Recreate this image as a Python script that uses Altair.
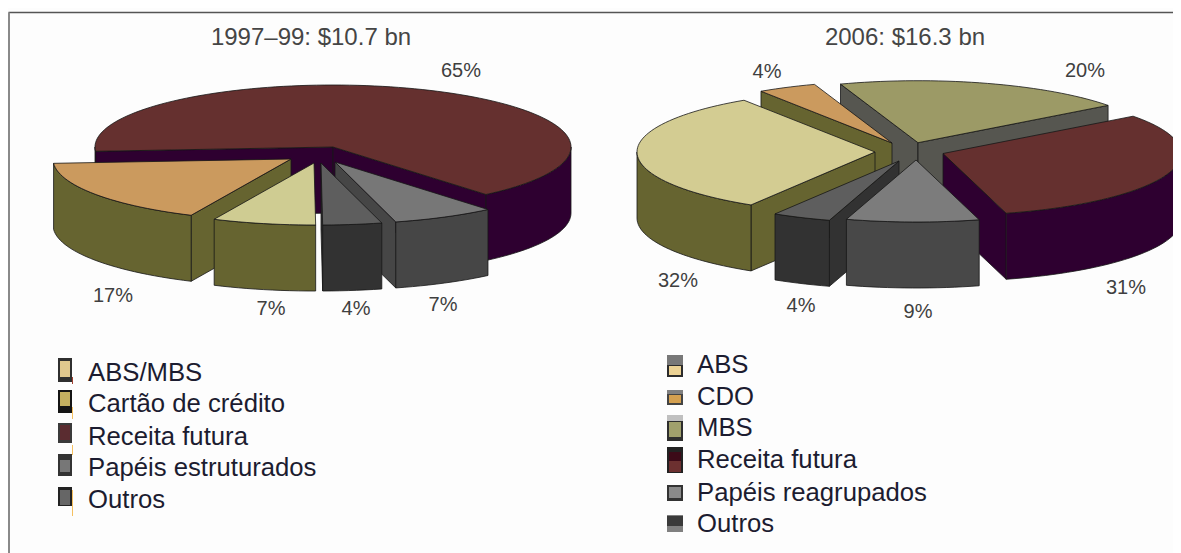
import math
import altair as alt

W, H = 1165, 545
OX, OY = 8, 8  # page margin

# ---- data -------------------------------------------------------------
left_names = ["Receita futura", "Papéis estruturados", "Outros", "ABS/MBS", "Cartão de crédito"]
left_shares = [65, 7, 4, 7, 17]
left_labels = ["65%", "7%", "4%", "7%", "17%"]
right_names = ["MBS", "Receita futura", "Papéis reagrupados", "Outros", "ABS", "CDO"]
right_shares = [20, 31, 9, 4, 32, 4]
right_labels = ["20%", "31%", "9%", "4%", "32%", "4%"]
titles = ["1997–99: $10.7 bn", "2006: $16.3 bn"]
left_legend = ["ABS/MBS", "Cartão de crédito", "Receita futura", "Papéis estruturados", "Outros"]
right_legend = ["ABS", "CDO", "MBS", "Receita futura", "Papéis reagrupados", "Outros"]

# ---- style / layout ----------------------------------------------------
TOP = {"Receita futura": "#65302f", "Papéis estruturados": "#777777", "Papéis reagrupados": "#7c7c7c",
       "Outros": "#5e5e5e", "ABS/MBS": "#cfcc92", "ABS": "#d3cc92", "Cartão de crédito": "#cb9a5e",
       "CDO": "#cb9a5e", "MBS": "#9c9a66"}
WALL = {"Receita futura": "#2e0030", "Papéis estruturados": "#464646", "Papéis reagrupados": "#484848",
        "Outros": "#323232", "ABS/MBS": "#666430", "ABS": "#666430", "Cartão de crédito": "#666430",
        "CDO": "#666430", "MBS": "#565650"}
RX, RY, DEPTH = 238, 62, 66
left_start, right_start = 266, 341
left_apex = [(333, 147), (335, 162), (321, 163), (314, 163), (291, 159)]
right_apex = [(918, 142.7), (943, 153.5), (916, 160), (899, 161), (875, 152), (892, 143)]
left_draw = [0, 1, 2, 4, 3]
right_draw = [0, 5, 4, 1, 3, 2]


def pt(ax, ay, th, dy=0):
    r = math.radians(th)
    return [ax + RX * math.sin(r) - OX, ay - RY * math.cos(r) + dy - OY]


def poly(coords, fill, stroke):
    coords = [[round(a, 2), round(b, 2)] for a, b in coords]
    return {"type": "Feature", "properties": {"fill": fill, "stroke": stroke},
            "geometry": {"type": "Polygon", "coordinates": [coords + [coords[0]]]}}


def arc(ax, ay, a, b, dy=0):
    n = max(2, int(abs(b - a) / 2))
    return [pt(ax, ay, a + (b - a) * i / n, dy) for i in range(n + 1)]


def wedge(name, ax, ay, a, b):
    out = []
    wall, top = WALL[name], TOP[name]
    edge = "#161616"
    c0, c1 = [ax - OX, ay - OY], [ax - OX, ay - OY + DEPTH]
    if math.sin(math.radians(a)) < 0:
        out.append(poly([c0, pt(ax, ay, a), pt(ax, ay, a, DEPTH), c1], wall, edge))
    if math.sin(math.radians(b)) > 0:
        out.append(poly([c0, pt(ax, ay, b), pt(ax, ay, b, DEPTH), c1], wall, edge))
    for lo, hi in ((90, 270), (450, 630)):
        s, e = max(a, lo), min(b, hi)
        if e > s:
            out.append(poly(arc(ax, ay, s, e) + arc(ax, ay, s, e, DEPTH)[::-1], wall, edge))
    out.append(poly([c0] + arc(ax, ay, a, b), top, edge))
    return out


def pie(names, shares, apexes, start, order):
    bounds, cur = [], start
    for s in shares:
        bounds.append((cur, cur + s * 3.6))
        cur += s * 3.6
    feats = []
    for i in order:
        a, b = bounds[i]
        if a >= 360:
            a, b = a - 360, b - 360
        feats += wedge(names[i], apexes[i][0], apexes[i][1], a, b)
    return feats


features = pie(left_names, left_shares, left_apex, left_start, left_draw) + \
           pie(right_names, right_shares, right_apex, right_start, right_draw)

pies = alt.Chart(alt.Data(values=features)).mark_geoshape(strokeWidth=0.8).encode(
    fill=alt.Fill("properties.fill:N", scale=None),
    stroke=alt.Stroke("properties.stroke:N", scale=None),
).project(type="identity", scale=1, translate=[0, 0])

xs = alt.Scale(domain=[0, W], range=[0, W])
ys = alt.Scale(domain=[0, H], range=[0, H])


def text_layer(rows, size, color, align="center"):
    vals = [{"x": x - OX, "y": y - OY + 1, "t": t} for x, y, t in rows]
    return alt.Chart(alt.Data(values=vals)).mark_text(
        font="Liberation Sans", fontSize=size, color=color, align=align, baseline="middle"
    ).encode(x=alt.X("x:Q", scale=xs, axis=None), y=alt.Y("y:Q", scale=ys, axis=None), text="t:N")


title_layer = text_layer([(311, 37, titles[0]), (905, 37, titles[1])], 24, "#454545")
label_pos_l = [(461, 70), (443, 304), (356, 308), (271, 308), (113, 295)]
label_pos_r = [(1085, 70), (1126, 287), (918, 311), (801, 305), (678, 280), (767, 71)]
label_layer = text_layer(
    [(p[0], p[1], t) for p, t in zip(label_pos_l, left_labels)] +
    [(p[0], p[1], t) for p, t in zip(label_pos_r, right_labels)], 20, "#3f3f3f")
legend_y_l = [372, 403, 436, 467, 499]
legend_y_r = [364, 396, 427, 459, 492, 523]
legend_layer = text_layer(
    [(88, y, t) for y, t in zip(legend_y_l, left_legend)] +
    [(697, y, t) for y, t in zip(legend_y_r, right_legend)], 25.7, "#1c1c30", align="left")

# legend keys: stacked rectangles (x0, y0, x1, y1, fill)
key_rects = [
    (58, 358, 72, 382, "#2f2f2f"), (60, 361, 70, 377, "#e0c88e"),
    (58, 390, 72, 413, "#141414"), (60, 392, 70, 406, "#c4b060"),
    (58, 423, 72, 443, "#3a3a3a"), (60, 425, 70, 440, "#5a2c30"),
    (58, 454, 72, 476, "#333333"), (60, 460, 70, 472, "#777777"),
    (58, 487, 72, 506, "#222222"), (60, 490, 70, 505, "#666666"),
    (667, 355, 683, 377, "#2c2c2c"), (667, 355, 683, 365, "#787878"), (669, 366, 681, 375, "#ecd294"),
    (667, 390, 683, 405, "#444444"), (667, 390, 683, 394, "#808080"), (669, 395, 681, 403, "#d4a050"),
    (667, 415, 683, 441, "#2e2e2e"), (667, 415, 683, 421, "#c0c0c0"), (669, 422, 681, 437, "#a0a06c"),
    (667, 447, 683, 473, "#222222"), (669, 452, 681, 461, "#3c0a18"), (669, 461, 681, 472, "#6c3030"),
    (667, 485, 683, 501, "#333333"), (669, 487, 681, 498, "#8a8a8a"),
    (667, 515, 683, 532, "#808080"), (667, 516, 683, 526, "#3a3a3a"),
]
keys = alt.Chart(alt.Data(values=[
    {"x": a - OX, "y": b - OY, "x2": c - OX, "y2": d - OY, "f": f} for a, b, c, d, f in key_rects
])).mark_rect().encode(
    x=alt.X("x:Q", scale=xs, axis=None), x2="x2:Q",
    y=alt.Y("y:Q", scale=ys, axis=None), y2="y2:Q",
    fill=alt.Fill("f:N", scale=None),
)

# frame lines and the small orange ticks beside the left legend keys
frame_rows = [
    (8.5, 12.5, W + OX, 12.5, "#555555", 1.6),
    (9, 12.5, 9, 553, "#8a8a8a", 2.0),
    (72.5, 490, 72.5, 516, "#f5c060", 1.0),
    (72.5, 445, 72.5, 455, "#f5c060", 1.0),
    (72.5, 407, 72.5, 419, "#f5c060", 1.0),
    (72.5, 377, 72.5, 384, "#a04030", 1.0),
]
frame = alt.Chart(alt.Data(values=[
    {"x": a - OX, "y": b - OY, "x2": c - OX, "y2": d - OY, "c": col, "w": w}
    for a, b, c, d, col, w in frame_rows
])).mark_rule().encode(
    x=alt.X("x:Q", scale=xs, axis=None), x2="x2:Q",
    y=alt.Y("y:Q", scale=ys, axis=None), y2="y2:Q",
    color=alt.Color("c:N", scale=None),
    strokeWidth=alt.StrokeWidth("w:Q", scale=None),
)

chart = alt.layer(frame, pies, keys, title_layer, label_layer, legend_layer).properties(
    width=W, height=H, padding=0, autosize=alt.AutoSizeParams(type="none"),
    background="#fdfdfd",
).configure_view(stroke=None)

chart.save("out.html", embed_options={"renderer": "svg", "actions": False})
